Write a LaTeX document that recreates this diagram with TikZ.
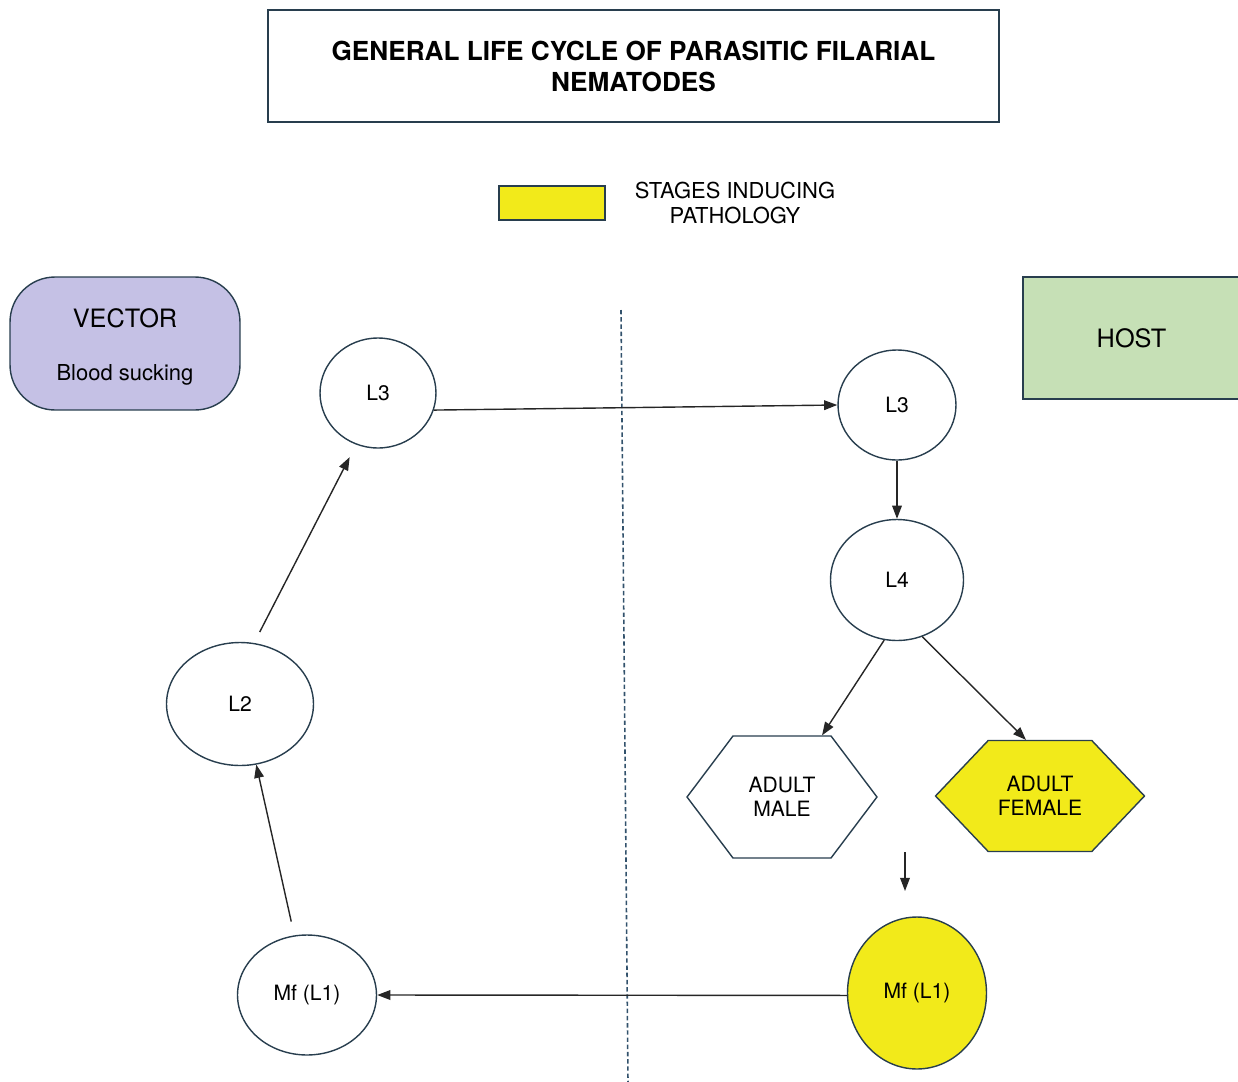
\documentclass[tikz,border=0pt]{standalone}
\usepackage{fontspec}
\setmainfont{TeX Gyre Heros}
\usetikzlibrary{arrows.meta}
\usetikzlibrary{shapes}

\definecolor{pathyellow}{RGB}{242,234,26}
\definecolor{vectorlilac}{RGB}{197,193,229}
\definecolor{hostgreen}{RGB}{198,224,182}
\definecolor{rimslate}{RGB}{40,62,78}
\definecolor{dividerblue}{RGB}{50,82,108}

\begin{document}
\begin{tikzpicture}[x=0.02cm,y=-0.02cm,
    stage/.style={ellipse,draw=rimslate,line width=0.8pt,inner sep=0pt,font=\fontsize{12}{14}\selectfont},
    adult/.style={signal,signal to=west and east,draw=rimslate,line width=0.8pt,inner sep=0pt,align=center,font=\fontsize{12}{13.6}\selectfont},
    link/.style={-{Triangle[length=7.5pt,width=5.5pt]},line width=0.8pt,draw=black!85}]
  \useasboundingbox (0,0) rectangle (1238,1082);

  % title and key
  \node[draw=rimslate,line width=0.8pt,minimum width=14.62cm,minimum height=2.24cm,align=center,
        font=\fontsize{14.9}{17.6}\selectfont\bfseries] (title) at (633.5,66)
        {GENERAL LIFE CYCLE OF PARASITIC FILARIAL\\NEMATODES};
  \node[draw=rimslate,line width=0.8pt,fill=pathyellow,minimum width=2.12cm,minimum height=0.68cm] (key) at (552,203) {};
  \node[align=center,font=\fontsize{12.5}{14.2}\selectfont] (keytext) at (735,203) {STAGES INDUCING\\PATHOLOGY};

  % the two sides
  \node[draw=rimslate,line width=0.8pt,fill=vectorlilac,rounded corners=0.9cm,minimum width=4.6cm,minimum height=2.66cm,
        align=center,font=\fontsize{14.4}{30}\selectfont] (vector) at (125,343.5)
        {\rule{0pt}{15pt}VECTOR\\{\fontsize{12.5}{30}\selectfont Blood sucking}};
  \node[draw=rimslate,line width=0.8pt,fill=hostgreen,minimum width=4.34cm,minimum height=2.44cm,
        font=\fontsize{14.4}{17}\selectfont] (host) at (1131.5,338) {HOST};
  \draw[dividerblue,line width=0.9pt,dash pattern=on 2.5pt off 1.6pt] (621,310) -- (628,1082);

  % stages in the vector
  \node[stage,minimum width=2.32cm,minimum height=2.2cm] (l3v) at (378,393) {L3};
  \node[stage,minimum width=2.94cm,minimum height=2.46cm] (l2) at (240,704) {L2};
  \node[stage,minimum width=2.78cm,minimum height=2.4cm] (mfv) at (307,995) {Mf (L1)};

  % stages in the host
  \node[stage,minimum width=2.36cm,minimum height=2.2cm] (l3h) at (897,405) {L3};
  \node[stage,minimum width=2.66cm,minimum height=2.42cm] (l4) at (897,580) {L4};
  \node[adult,signal pointer angle=106,minimum width=3.8cm,minimum height=2.44cm] (male) at (782,797) {ADULT\\MALE};
  \node[adult,fill=pathyellow,signal pointer angle=93,minimum width=4.18cm,minimum height=2.22cm] (female) at (1040,796) {ADULT\\FEMALE};
  \node[stage,fill=pathyellow,minimum width=2.78cm,minimum height=3.04cm] (mfh) at (917,993) {Mf (L1)};
  \coordinate (drop) at (905,852);

  % cycle
  \draw[link] (l3v.-17) -- (l3h.west);
  \draw[link] (l3h.south) -- (l4.north);
  \draw[link] (l4.-102) -- (male.57);
  \draw[link] (l4.-66) -- (female.104);
  \draw[link,shorten >=18\pgflinewidth] (drop) -- (drop |- mfh.north);
  \draw[link] (mfh.182) -- (mfv.east);
  \draw[link,shorten <=8pt] (mfv.102) -- (l2.-75);
  \draw[link,shorten <=7pt,shorten >=8pt] (l2.77) -- (l3v.-113);
\end{tikzpicture}
\end{document}
